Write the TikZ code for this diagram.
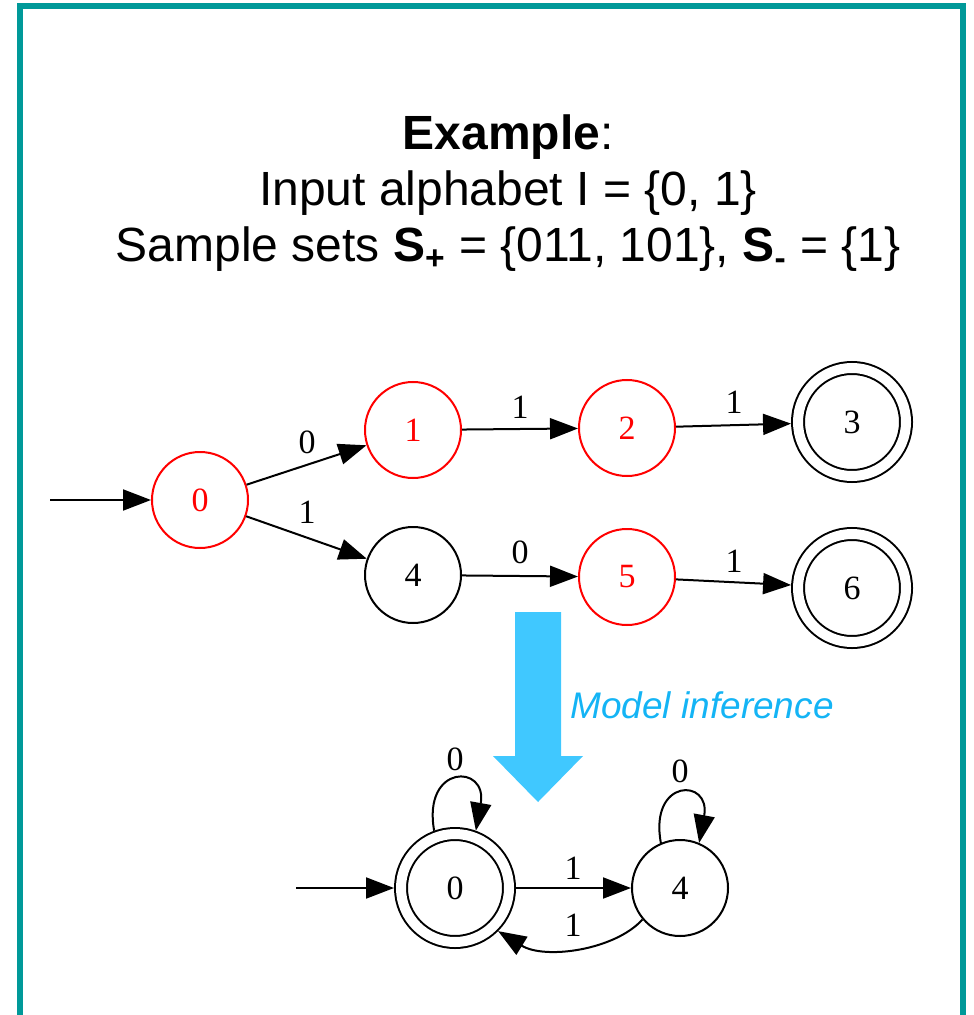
\documentclass[tikz,border=0pt]{standalone}
\usepackage{fontspec}
\setmainfont{Liberation Serif}
\newfontfamily\arialfont{Liberation Sans}
\usetikzlibrary{arrows.meta}
\definecolor{frameteal}{RGB}{0,153,153}
\definecolor{arrowblue}{RGB}{64,200,255}
\definecolor{textblue}{RGB}{20,180,245}
\begin{document}
\begin{tikzpicture}[x=0.5pt,y=-0.5pt,
  st/.style={circle,draw,line width=1pt,minimum size=48pt,inner sep=0pt,font=\fontsize{17}{17}\selectfont},
  redst/.style={st,draw=red,text=red},
  acc/.style={st,minimum size=54pt,double,double distance=5pt,outer sep=3.5pt},
  edge/.style={line width=1pt,-{Triangle[length=14pt,width=10.5pt]}},
  lbl/.style={inner sep=0pt,font=\fontsize{17}{17}\selectfont},
  ttl/.style={font=\arialfont\fontsize{24}{24}\selectfont,anchor=base,inner sep=0pt}]
\useasboundingbox (0,0) rectangle (973,1015);
\draw[frameteal,line width=3pt] (20,6.5) rectangle (963,1060);

% title
\node[ttl] (title1) at (508,150) {\textbf{Example}:};
\node[ttl] (title2) at (508,206) {Input alphabet I = \{0, 1\}};
\node[ttl] (title3) at (508,262) {Sample sets \textbf{S}\textsubscript{\textbf{+}} = \{011, 101\}, \textbf{S}\textsubscript{\textbf{-}} = \{1\}};

% top automaton
\node[redst] (t0) at (200,500) {0};
\node[redst] (t1) at (413,430) {1};
\node[redst] (t2) at (627,428) {2};
\node[acc] (t3) at (852,422) {3};
\node[st] (t4) at (413,575) {4};
\node[redst] (t5) at (627,577) {5};
\node[acc] (t6) at (852,588) {6};
\coordinate (ts) at (50,500);
\draw[edge] (ts) -- (t0);
\draw[edge] (t0) -- (t1);
\draw[edge] (t0) -- (t4);
\draw[edge] (t1) -- (t2);
\draw[edge] (t2) -- (t3);
\draw[edge] (t4) -- (t5);
\draw[edge] (t5) -- (t6);
\node[lbl] (l01) at (307,442) {0};
\node[lbl] (l04) at (307,512) {1};
\node[lbl] (l12) at (520,407) {1};
\node[lbl] (l23) at (734,402) {1};
\node[lbl] (l45) at (520,552) {0};
\node[lbl] (l56) at (734,561) {1};

% inference arrow
\fill[arrowblue] (515,612) -- (561,612) -- (561,756) -- (583,756) -- (538,802) -- (493,756) -- (515,756) -- cycle;
\node[font=\arialfont\itshape\fontsize{18.5}{18.5}\selectfont,text=textblue,anchor=base west,inner sep=0pt] (mi) at (570,718) {Model inference};

% bottom automaton
\node[acc] (b0) at (455,888) {0};
\node[st] (b4) at (680,888) {4};
\coordinate (bs) at (296,888);
\draw[edge] (bs) -- (b0);
\draw[edge] (b0) -- (b4);
\draw[edge] (b4.-140) .. controls (615,950) and (545,960) .. (b0.-45);
\draw[edge] (b0.110) .. controls +(-12,-67) and +(12,-67) .. (b0.70);
\draw[edge] (b4.113) .. controls +(-12,-65) and +(12,-65) .. (b4.67);
\node[lbl] (lb00) at (455,759) {0};
\node[lbl] (lb44) at (680,771) {0};
\node[lbl] (lb04) at (573,868) {1};
\node[lbl] (lb40) at (573,925) {1};
\end{tikzpicture}
\end{document}
